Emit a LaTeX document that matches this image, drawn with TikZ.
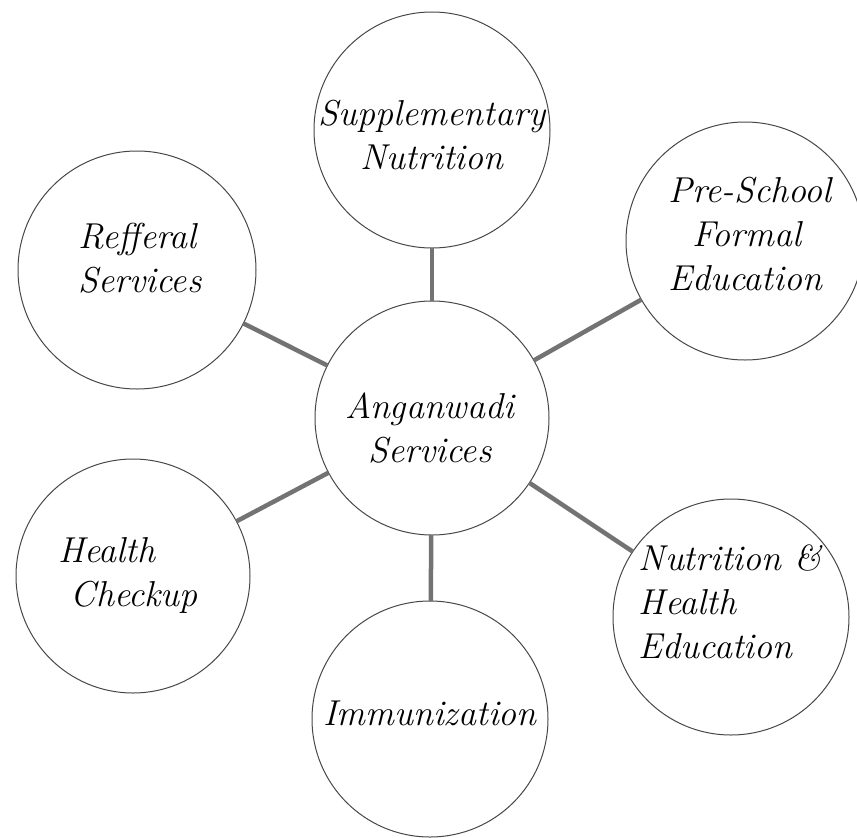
\documentclass[tikz,border=0pt]{standalone}
\usepackage{fontspec}
\begin{document}
\begin{tikzpicture}[x=1pt,y=-1pt,
  bubble/.style={circle, draw=black!72, line width=1pt, inner sep=0pt, outer sep=0pt},
  link/.style={draw=black!55, line width=4.5pt},
  lbl/.style={font=\fontsize{36}{44}\selectfont\itshape, text=black, inner sep=0pt}]
\useasboundingbox (0,0) rectangle (857,838);
% circles
\node[bubble, minimum size=234pt] (c) at (432,418) {};
\node[bubble, minimum size=236pt] (sn) at (432,130) {};
\node[bubble, minimum size=238pt] (ps) at (745,241) {};
\node[bubble, minimum size=238pt] (rs) at (137,270) {};
\node[bubble, minimum size=234pt] (hc) at (133,576) {};
\node[bubble, minimum size=236pt] (im) at (430,719) {};
\node[bubble, minimum size=236pt] (nh) at (731,617) {};
% connectors
\draw[link] (c) -- (sn);
\draw[link] (c) -- (ps);
\draw[link] (c) -- (rs);
\draw[link] (c) -- (hc);
\draw[link] (c) -- (im);
\draw[link] (c) -- (nh);
% labels
\node[lbl, align=center] (tc) at (430,428) {Anganwadi\\Services};
\node[lbl, align=center] (tsn) at (432,135) {Supplementary\\Nutrition};
\node[lbl, align=left] (tps) at (750,234) {Pre-School\\\hspace{24pt}Formal\\Education};
\node[lbl, align=left] (trs) at (140,258) {Refferal\\Services};
\node[lbl, align=left] (thc) at (128,575) {Health\\\ Checkup};
\node[lbl] (tim) at (430,713) {Immunization};
\node[lbl, align=left] (tnh) at (730,602) {Nutrition \&\\Health\\Education};
\end{tikzpicture}
\end{document}
